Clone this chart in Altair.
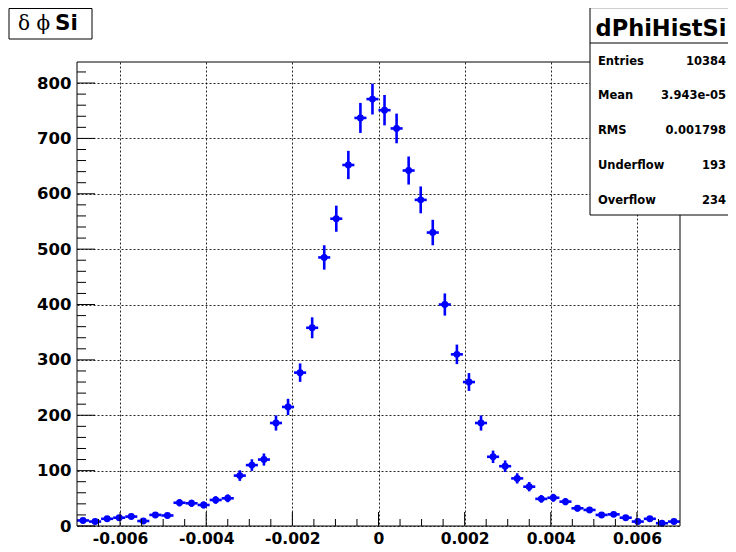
import altair as alt
import pandas as pd
import numpy as np

# ---------------- data ----------------
X_MIN, X_MAX = -0.007, 0.007
N_BINS = 50
COUNTS = [10, 8, 13, 15, 17, 9, 20, 19, 42, 41, 38, 47, 50, 91, 110, 120, 186, 215,
          277, 358, 485, 555, 652, 737, 771, 751, 718, 642, 589, 530,
          400, 310, 260, 186, 125, 108, 86, 71, 49, 51, 44, 32, 29, 20, 21, 15, 8, 13, 5, 8]
X_TICKS = [-0.006, -0.004, -0.002, 0, 0.002, 0.004, 0.006]
X_MINOR_STEP = 0.0005
Y_TICKS = [0, 100, 200, 300, 400, 500, 600, 700, 800]
Y_MINOR_STEP = 20
Y_MAX = 838
STAT_LABELS = ["Entries", "Mean", "RMS", "Underflow", "Overflow"]
STAT_VALUES = ["10384", "3.943e-05", "0.001798", "193", "234"]
HIST_NAME = "dPhiHistSi"
TITLE_GREEK = "δ ϕ"
TITLE_TEXT = "Si"

# ---------------- table ----------------
bw = (X_MAX - X_MIN) / N_BINS
idx = np.arange(N_BINS)
df = pd.DataFrame({
    "center": X_MIN + (idx + 0.5) * bw,
    "lo": X_MIN + idx * bw,
    "hi": X_MIN + (idx + 1) * bw,
    "count": COUNTS,
})
err = np.sqrt(df["count"])
df["elo"] = df["count"] - err
df["ehi"] = df["count"] + err

x_minor = [round(-0.0065 + i * X_MINOR_STEP, 6) for i in range(27)]
x_minor = [v for v in x_minor if all(abs(v - m) > 1e-9 for m in X_TICKS)]
y_minor = [v for v in range(0, Y_MAX, Y_MINOR_STEP) if v not in Y_TICKS]

W, H = 603, 464
BLUE = "#0000ff"
SANS = "DejaVu Sans"

xs = alt.Scale(domain=[X_MIN, X_MAX], nice=False, zero=False)
ys = alt.Scale(domain=[0, Y_MAX], nice=False, zero=True)

xaxis = alt.Axis(values=X_TICKS, title=None, grid=True, gridDash=[2, 2], gridColor="#000000",
                 gridOpacity=0.85, gridWidth=1, ticks=False, domain=False,
                 labelFont=SANS, labelFontWeight="bold", labelFontSize=15.5, labelColor="#000000",
                 labelPadding=5, labelExpr="toString(datum.value)", labelFlush=False)
yaxis = alt.Axis(values=Y_TICKS, title=None, grid=True, gridDash=[2, 2], gridColor="#000000",
                 gridOpacity=0.85, gridWidth=1, ticks=False, domain=False,
                 labelFont=SANS, labelFontWeight="bold", labelFontSize=16.5, labelColor="#000000",
                 labelPadding=6)

base = alt.Chart(df)

vbars = base.mark_rule(color=BLUE, strokeWidth=2.6).encode(
    x=alt.X("center:Q", scale=xs, axis=xaxis),
    y=alt.Y("elo:Q", scale=ys, axis=yaxis),
    y2="ehi:Q",
)
hbars = base.mark_rule(color=BLUE, strokeWidth=2.6).encode(
    x=alt.X("lo:Q", scale=xs, axis=xaxis),
    x2="hi:Q",
    y=alt.Y("count:Q", scale=ys, axis=yaxis),
)
points = base.mark_circle(color=BLUE, size=48, opacity=1).encode(
    x=alt.X("center:Q", scale=xs, axis=xaxis),
    y=alt.Y("count:Q", scale=ys, axis=yaxis),
)

xt_major = alt.Chart(pd.DataFrame({"t": X_TICKS})).mark_rule(color="#000000", strokeWidth=1).encode(
    x=alt.X("t:Q", scale=xs, axis=xaxis), y=alt.value(H), y2=alt.value(H - 14))
xt_minor = alt.Chart(pd.DataFrame({"t": x_minor})).mark_rule(color="#000000", strokeWidth=1).encode(
    x=alt.X("t:Q", scale=xs, axis=xaxis), y=alt.value(H), y2=alt.value(H - 7))
yt_major = alt.Chart(pd.DataFrame({"t": Y_TICKS})).mark_rule(color="#000000", strokeWidth=1).encode(
    y=alt.Y("t:Q", scale=ys, axis=yaxis), x=alt.value(0), x2=alt.value(18))
yt_minor = alt.Chart(pd.DataFrame({"t": y_minor})).mark_rule(color="#000000", strokeWidth=1).encode(
    y=alt.Y("t:Q", scale=ys, axis=yaxis), x=alt.value(0), x2=alt.value(9))

one = pd.DataFrame({"a": [0]})
frame = alt.Chart(one).mark_rect(fillOpacity=0, stroke="#000000", strokeWidth=1).encode(
    x=alt.value(0), x2=alt.value(W), y=alt.value(0), y2=alt.value(H))

# title box
tbox = alt.Chart(one).mark_rect(fill="white", stroke="#000000", strokeWidth=1).encode(
    x=alt.value(-68), x2=alt.value(15), y=alt.value(-53.5), y2=alt.value(-23))
tgreek = alt.Chart(one).mark_text(text=TITLE_GREEK, font="DejaVu Serif", fontSize=20,
                                  align="left", baseline="alphabetic", color="#000000").encode(
    x=alt.value(-59), y=alt.value(-32))
tsi = alt.Chart(one).mark_text(text=TITLE_TEXT, font=SANS, fontWeight="bold", fontSize=21.5,
                               align="left", baseline="alphabetic", color="#000000").encode(
    x=alt.value(-22), y=alt.value(-32))

# stats box
sbox = alt.Chart(one).mark_rect(fill="white", stroke="#000000", strokeWidth=1).encode(
    x=alt.value(513), x2=alt.value(670), y=alt.value(-54.3), y2=alt.value(153))
sdiv = alt.Chart(one).mark_rule(color="#000000", strokeWidth=1).encode(
    x=alt.value(513), x2=alt.value(670), y=alt.value(-19))
sname = alt.Chart(one).mark_text(text=HIST_NAME, font=SANS, fontWeight="bold", fontSize=22.5,
                                 align="center", baseline="alphabetic", color="#000000").encode(
    x=alt.value(584), y=alt.value(-26))

stat_layers = []
for i, (lab, val) in enumerate(zip(STAT_LABELS, STAT_VALUES)):
    yy = 2.5 + i * 34.75
    stat_layers.append(alt.Chart(one).mark_text(text=lab, font=SANS, fontWeight="bold", fontSize=11.5,
                                                align="left", baseline="alphabetic", color="#000000").encode(
        x=alt.value(521), y=alt.value(yy)))
    stat_layers.append(alt.Chart(one).mark_text(text=val, font=SANS, fontWeight="bold", fontSize=11.5,
                                                align="right", baseline="alphabetic", color="#000000").encode(
        x=alt.value(649), y=alt.value(yy)))

chart = alt.layer(
    vbars, hbars, points, xt_major, xt_minor, yt_major, yt_minor, frame,
    tbox, tgreek, tsi, sbox, sdiv, sname, *stat_layers
).properties(
    width=W, height=H,
    autosize=alt.AutoSizeParams(type="none"),
    padding={"left": 69, "top": 54, "right": 48, "bottom": 18},
    background="white",
).configure_view(stroke=None)

chart.save("out.html", embed_options={"renderer": "svg", "actions": False})
